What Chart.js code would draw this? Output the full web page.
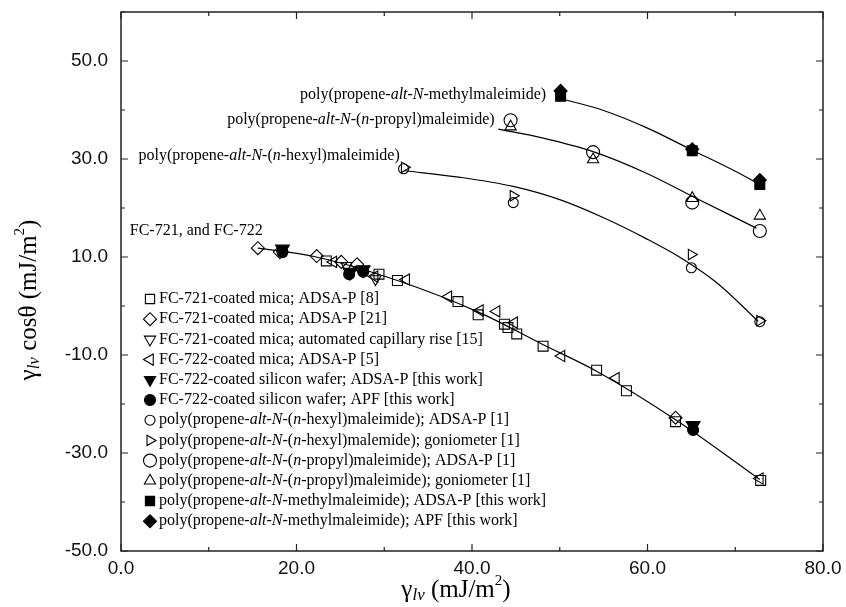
<!DOCTYPE html>
<html>
<head>
<meta charset="utf-8">
<script src="https://cdn.jsdelivr.net/npm/chart.js@4/dist/chart.umd.min.js"></script>
<style>html,body{margin:0;background:#fff}canvas{display:block}</style>
</head>
<body>
<canvas id="graf" width="846" height="607"></canvas>
<script>
/* gamma_lv cos(theta) contra gamma_lv: FC-721 / FC-722 y tres copolimeros */

// puntos [gamma_lv, gamma_lv cos(theta)]
const fc721MicaP8   = [[23.4,9.2],[29.4,6.5],[31.5,5.2],[38.4,0.9],[40.7,-1.8],[43.7,-3.7],[44.1,-4.4],[45.1,-5.7],[48.1,-8.2],[54.2,-13.1],[57.6,-17.3],[63.2,-23.6],[72.9,-35.6]];
const fc721MicaP21  = [[15.6,11.8],[18.1,11.0],[22.3,10.2],[25.1,9.0],[26.9,8.5],[63.2,-22.8]];
const fc721MicaCap  = [[25.7,8.2],[27.3,7.4],[29.0,5.5]];
const fc722MicaP5   = [[24.2,9.0],[28.9,6.0],[32.5,5.4],[37.3,1.9],[40.9,-0.9],[42.8,-1.1],[44.8,-3.4],[50.2,-10.2],[56.4,-14.7],[72.8,-35.2]];
const fc722WaferP   = [[18.4,11.6],[26.1,6.9],[27.6,7.4],[65.2,-24.4]];
const fc722WaferApf = [[18.4,11.0],[26.0,6.5],[27.6,7.0],[65.2,-25.3]];
const hexylP        = [[32.2,28.0],[44.7,21.1],[65.0,7.8],[72.8,-3.2]];
const hexylGonio    = [[32.3,28.3],[44.7,22.5],[65.0,10.5],[72.8,-3.0]];
const propylP       = [[44.4,37.9],[53.8,31.4],[65.1,21.1],[72.8,15.3]];
const propylGonio   = [[44.4,36.6],[53.8,29.9],[65.1,22.0],[72.8,18.4]];
const methylP       = [[50.1,42.8],[65.1,31.7],[72.8,24.8]];
const methylApf     = [[50.1,43.9],[65.1,32.0],[72.8,25.7]];

// curvas ajustadas
const fcCurve     = [[15.6,11.8],[22,10.1],[31.5,5.2],[40.8,-1.3],[48,-7.8],[54.2,-13.3],[63.2,-23.2],[72.8,-35.4]];
const hexylCurve  = [[32.4,27.6],[38.5,26.3],[44.7,24.4],[50,21.7],[55,18.0],[60,13.6],[64,9.6],[68,4.6],[72.6,-3.1]];
const propylCurve = [[43,36.1],[48,34.3],[53.8,31.5],[60,27.0],[65.2,22.3],[72.4,15.9]];
const methylCurve = [[50.4,42.2],[55,39.9],[60,36.3],[65,31.9],[70,27.5],[72.4,25.2]];

// ejes
const xTicksShown = [0, 20, 40, 60, 80];
const yTicksShown = [-50, -30, -10, 10, 30, 50];

const SERIF = "'Liberation Serif','Times New Roman',serif";
const SANS  = "'Liberation Sans',Arial,sans-serif";

const xy = arr => arr.map(p => ({ x: p[0], y: p[1] }));

function marker (legendText, data, style, filled, radius, rotation) {
  return {
    legendText, data: xy(data), showLine: false,
    pointStyle: style, pointRotation: rotation || 0,
    pointRadius: radius, pointHoverRadius: radius,
    pointBorderColor: '#000', pointBorderWidth: 1.1,
    pointBackgroundColor: filled ? '#000' : 'rgba(0,0,0,0)'
  };
}

function curve (data) {
  return {
    data: xy(data), showLine: true, order: 1,
    borderColor: '#000', borderWidth: 1.2, pointRadius: 0,
    cubicInterpolationMode: 'monotone', fill: false
  };
}

function drawSymbol (ctx, style, rot, r, filled, x, y) {
  ctx.save();
  ctx.translate(x, y);
  ctx.rotate(rot * Math.PI / 180);
  ctx.beginPath();
  if (style === 'circle') ctx.arc(0, 0, r, 0, 2 * Math.PI);
  else if (style === 'rect') { const s = r * Math.SQRT1_2; ctx.rect(-s, -s, 2 * s, 2 * s); }
  else if (style === 'rectRot') { ctx.moveTo(-r, 0); ctx.lineTo(0, -r); ctx.lineTo(r, 0); ctx.lineTo(0, r); ctx.closePath(); }
  else { for (let k = 0; k < 3; k++) { const a = k * 2 * Math.PI / 3; ctx.lineTo(Math.sin(a) * r, -Math.cos(a) * r); } ctx.closePath(); }
  ctx.lineWidth = 1.1;
  ctx.strokeStyle = '#000';
  if (filled) { ctx.fillStyle = '#000'; ctx.fill(); }
  ctx.stroke();
  ctx.restore();
}

// texto con partes en cursiva marcadas con *
function richText (ctx, src, x, y, size) {
  let cx = x;
  src.split('*').forEach((t, i) => {
    ctx.font = (i % 2 ? 'italic ' : '') + size + 'px ' + SERIF;
    ctx.fillText(t, cx, y);
    cx += ctx.measureText(t).width;
  });
}

// titulo con subindice / superindice: [texto, tam, desplazamiento, cursiva]
function titleText (ctx, parts, cx, cy) {
  const fontOf = p => (p[3] ? 'italic ' : '') + p[1] + 'px ' + SERIF;
  let w = 0;
  parts.forEach(p => { ctx.font = fontOf(p); w += ctx.measureText(p[0]).width; });
  let x = cx - w / 2;
  parts.forEach(p => { ctx.font = fontOf(p); ctx.fillText(p[0], x, cy + p[2]); x += ctx.measureText(p[0]).width; });
}

const notes = [
  ['poly(propene-*alt*-*N*-methylmaleimide)', 20.4, 43.1],
  ['poly(propene-*alt*-*N*-(*n*-propyl)maleimide)', 12.1, 37.9],
  ['poly(propene-*alt*-*N*-(*n*-hexyl)maleimide)', 2.0, 30.6],
  ['FC-721, and FC-722', 1.0, 15.4]
];

const decor = {
  id: 'decor',
  afterDraw (chart) {
    const { ctx, chartArea: a, scales: { x, y } } = chart;
    ctx.save();
    // marco
    ctx.strokeStyle = '#222';
    ctx.lineWidth = 1.5;
    ctx.strokeRect(a.left, a.top, a.right - a.left, a.bottom - a.top);
    // marcas hacia dentro en los cuatro lados
    ctx.lineWidth = 1.2;
    ctx.beginPath();
    x.ticks.forEach(t => {
      const px = x.getPixelForValue(t.value), len = xTicksShown.includes(t.value) ? 7 : 4;
      ctx.moveTo(px, a.bottom); ctx.lineTo(px, a.bottom - len);
      ctx.moveTo(px, a.top); ctx.lineTo(px, a.top + len);
    });
    y.ticks.forEach(t => {
      const py = y.getPixelForValue(t.value), len = yTicksShown.includes(t.value) ? 7 : 4;
      ctx.moveTo(a.left, py); ctx.lineTo(a.left + len, py);
      ctx.moveTo(a.right, py); ctx.lineTo(a.right - len, py);
    });
    ctx.stroke();

    ctx.fillStyle = '#000';
    ctx.textBaseline = 'middle';
    ctx.textAlign = 'left';
    // rotulos de las curvas
    notes.forEach(n => richText(ctx, n[0], x.getPixelForValue(n[1]), y.getPixelForValue(n[2]), 16));

    // leyenda
    let row = 0;
    chart.data.datasets.forEach(ds => {
      if (!ds.legendText) return;
      const ly = 299 + row * 20.2;
      drawSymbol(ctx, ds.pointStyle, ds.pointRotation, Math.min(ds.pointRadius, 6.5), ds.pointBackgroundColor === '#000', 150, ly);
      richText(ctx, ds.legendText, 159, ly, 16);
      row++;
    });

    // titulos de ejes
    titleText(ctx, [['γ', 25, 0, false], ['lv', 17, 6, true], [' (mJ/m', 25, 0, false], ['2', 15, -9, false], [')', 25, 0, false]], 456, 590);
    ctx.translate(29, 300);
    ctx.rotate(-Math.PI / 2);
    titleText(ctx, [['γ', 25, 0, false], ['lv', 17, 6, true], [' cosθ (mJ/m', 25, 0, false], ['2', 15, -9, false], [')', 25, 0, false]], 0, 0);
    ctx.restore();
  }
};

new Chart(document.getElementById('graf'), {
  type: 'scatter',
  data: {
    datasets: [
      marker('FC-721-coated mica; ADSA-P [8]', fc721MicaP8, 'rect', false, 7),
      marker('FC-721-coated mica; ADSA-P [21]', fc721MicaP21, 'rectRot', false, 6.5),
      marker('FC-721-coated mica; automated capillary rise [15]', fc721MicaCap, 'triangle', false, 6.5, 180),
      marker('FC-722-coated mica; ADSA-P [5]', fc722MicaP5, 'triangle', false, 6.5, 270),
      marker('FC-722-coated silicon wafer; ADSA-P [this work]', fc722WaferP, 'triangle', true, 8, 180),
      marker('FC-722-coated silicon wafer; APF [this work]', fc722WaferApf, 'circle', true, 5.5),
      marker('poly(propene-*alt*-*N*-(*n*-hexyl)maleimide); ADSA-P [1]', hexylP, 'circle', false, 5),
      marker('poly(propene-*alt*-*N*-(*n*-hexyl)malemide); goniometer [1]', hexylGonio, 'triangle', false, 6, 90),
      marker('poly(propene-*alt*-*N*-(*n*-propyl)maleimide); ADSA-P [1]', propylP, 'circle', false, 6.5),
      marker('poly(propene-*alt*-*N*-(*n*-propyl)maleimide); goniometer [1]', propylGonio, 'triangle', false, 6.5),
      marker('poly(propene-*alt*-*N*-methylmaleimide); ADSA-P [this work]', methylP, 'rect', true, 7),
      marker('poly(propene-*alt*-*N*-methylmaleimide); APF [this work]', methylApf, 'rectRot', true, 6.5),
      curve(fcCurve),
      curve(hexylCurve),
      curve(propylCurve),
      curve(methylCurve)
    ]
  },
  options: {
    responsive: false,
    animation: false,
    devicePixelRatio: 1,
    layout: { padding: { top: 12, right: 23, left: 0, bottom: 0 } },
    plugins: { legend: { display: false }, tooltip: { enabled: false } },
    scales: {
      x: {
        type: 'linear', min: 0, max: 80,
        afterFit: s => { s.height = 56; s.paddingLeft = 0; s.paddingRight = 0; },
        grid: { drawOnChartArea: false, drawTicks: false },
        border: { display: false },
        ticks: {
          stepSize: 10, autoSkip: false, maxRotation: 0, padding: 6, color: '#111',
          font: { family: SANS, size: 19 },
          callback: v => xTicksShown.includes(v) ? v.toFixed(1) : ''
        }
      },
      y: {
        type: 'linear', min: -50, max: 60,
        afterFit: s => { s.width = 121; s.paddingTop = 0; s.paddingBottom = 0; },
        grid: { drawOnChartArea: false, drawTicks: false },
        border: { display: false },
        ticks: {
          stepSize: 10, autoSkip: false, padding: 13, color: '#111',
          font: { family: SANS, size: 19 },
          callback: v => yTicksShown.includes(v) ? v.toFixed(1) : ''
        }
      }
    }
  },
  plugins: [decor]
});
</script>
</body>
</html>
